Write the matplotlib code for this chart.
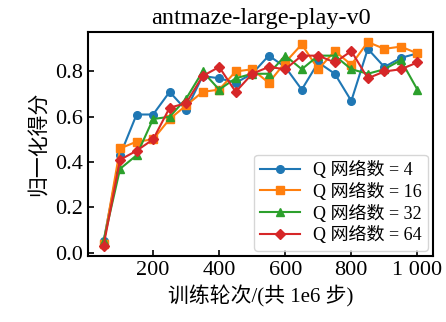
import matplotlib
matplotlib.use("Agg")
import matplotlib.pyplot as plt

plt.rcParams['font.family'] = ['Liberation Serif', 'Noto Sans CJK SC']
plt.rcParams['xtick.direction'] = 'in'
plt.rcParams['ytick.direction'] = 'in'

# training epochs (x1e3 steps shown as epochs)
epochs = [50, 100, 150, 200, 250, 300, 350, 400, 450, 500,
          550, 600, 650, 700, 750, 800, 850, 900, 950, 1000]

q4 = [0.05, 0.43, 0.61, 0.61, 0.71, 0.63, 0.78, 0.77, 0.75, 0.79,
      0.87, 0.82, 0.72, 0.84, 0.79, 0.67, 0.90, 0.82, 0.86, 0.88]
q16 = [0.04, 0.46, 0.49, 0.50, 0.59, 0.65, 0.71, 0.72, 0.80, 0.81,
       0.75, 0.84, 0.92, 0.81, 0.89, 0.83, 0.93, 0.90, 0.91, 0.88]
q32 = [0.05, 0.37, 0.43, 0.59, 0.60, 0.68, 0.80, 0.72, 0.77, 0.79,
       0.79, 0.87, 0.81, 0.87, 0.87, 0.81, 0.79, 0.81, 0.85, 0.72]
q64 = [0.03, 0.41, 0.45, 0.50, 0.64, 0.66, 0.78, 0.82, 0.71, 0.79,
       0.82, 0.81, 0.87, 0.87, 0.84, 0.89, 0.77, 0.80, 0.81, 0.84]

labels = ["Q 网络数 = 4", "Q 网络数 = 16", "Q 网络数 = 32", "Q 网络数 = 64"]
xticks = [200, 400, 600, 800, 1000]
xtick_labels = ["200", "400", "600", "800", "1 000"]
yticks = [0.0, 0.2, 0.4, 0.6, 0.8]

fig = plt.figure(figsize=(4.46, 3.22), dpi=100)
ax = fig.add_axes([0.197, 0.205, 0.774, 0.696])

ax.plot(epochs, q4, marker='o', ms=5.5, lw=1.5, color='#1f77b4', label=labels[0])
ax.plot(epochs, q16, marker='s', ms=5.5, lw=1.5, color='#ff7f0e', label=labels[1])
ax.plot(epochs, q32, marker='^', ms=6, lw=1.5, color='#2ca02c', label=labels[2])
ax.plot(epochs, q64, marker='D', ms=5, lw=1.5, color='#d62728', label=labels[3])

ax.set_xticks(xticks)
ax.set_xticklabels(xtick_labels)
ax.set_yticks(yticks)
ax.set_yticklabels([f"{v:.1f}" for v in yticks])
ax.tick_params(labelsize=16, width=1.2, length=4)
for s in ax.spines.values():
    s.set_linewidth(1.5)

ax.set_title("antmaze-large-play-v0", fontsize=17.5)
ax.set_xlabel("训练轮次/(共 1e6 步)", fontsize=15)
ax.set_ylabel("归一化得分", fontsize=15)

ax.legend(loc='lower right', fontsize=13, handlelength=2.2,
          borderpad=0.35, labelspacing=0.2, handletextpad=0.7,
          borderaxespad=0.3)

fig.savefig("out.png", dpi=100)
